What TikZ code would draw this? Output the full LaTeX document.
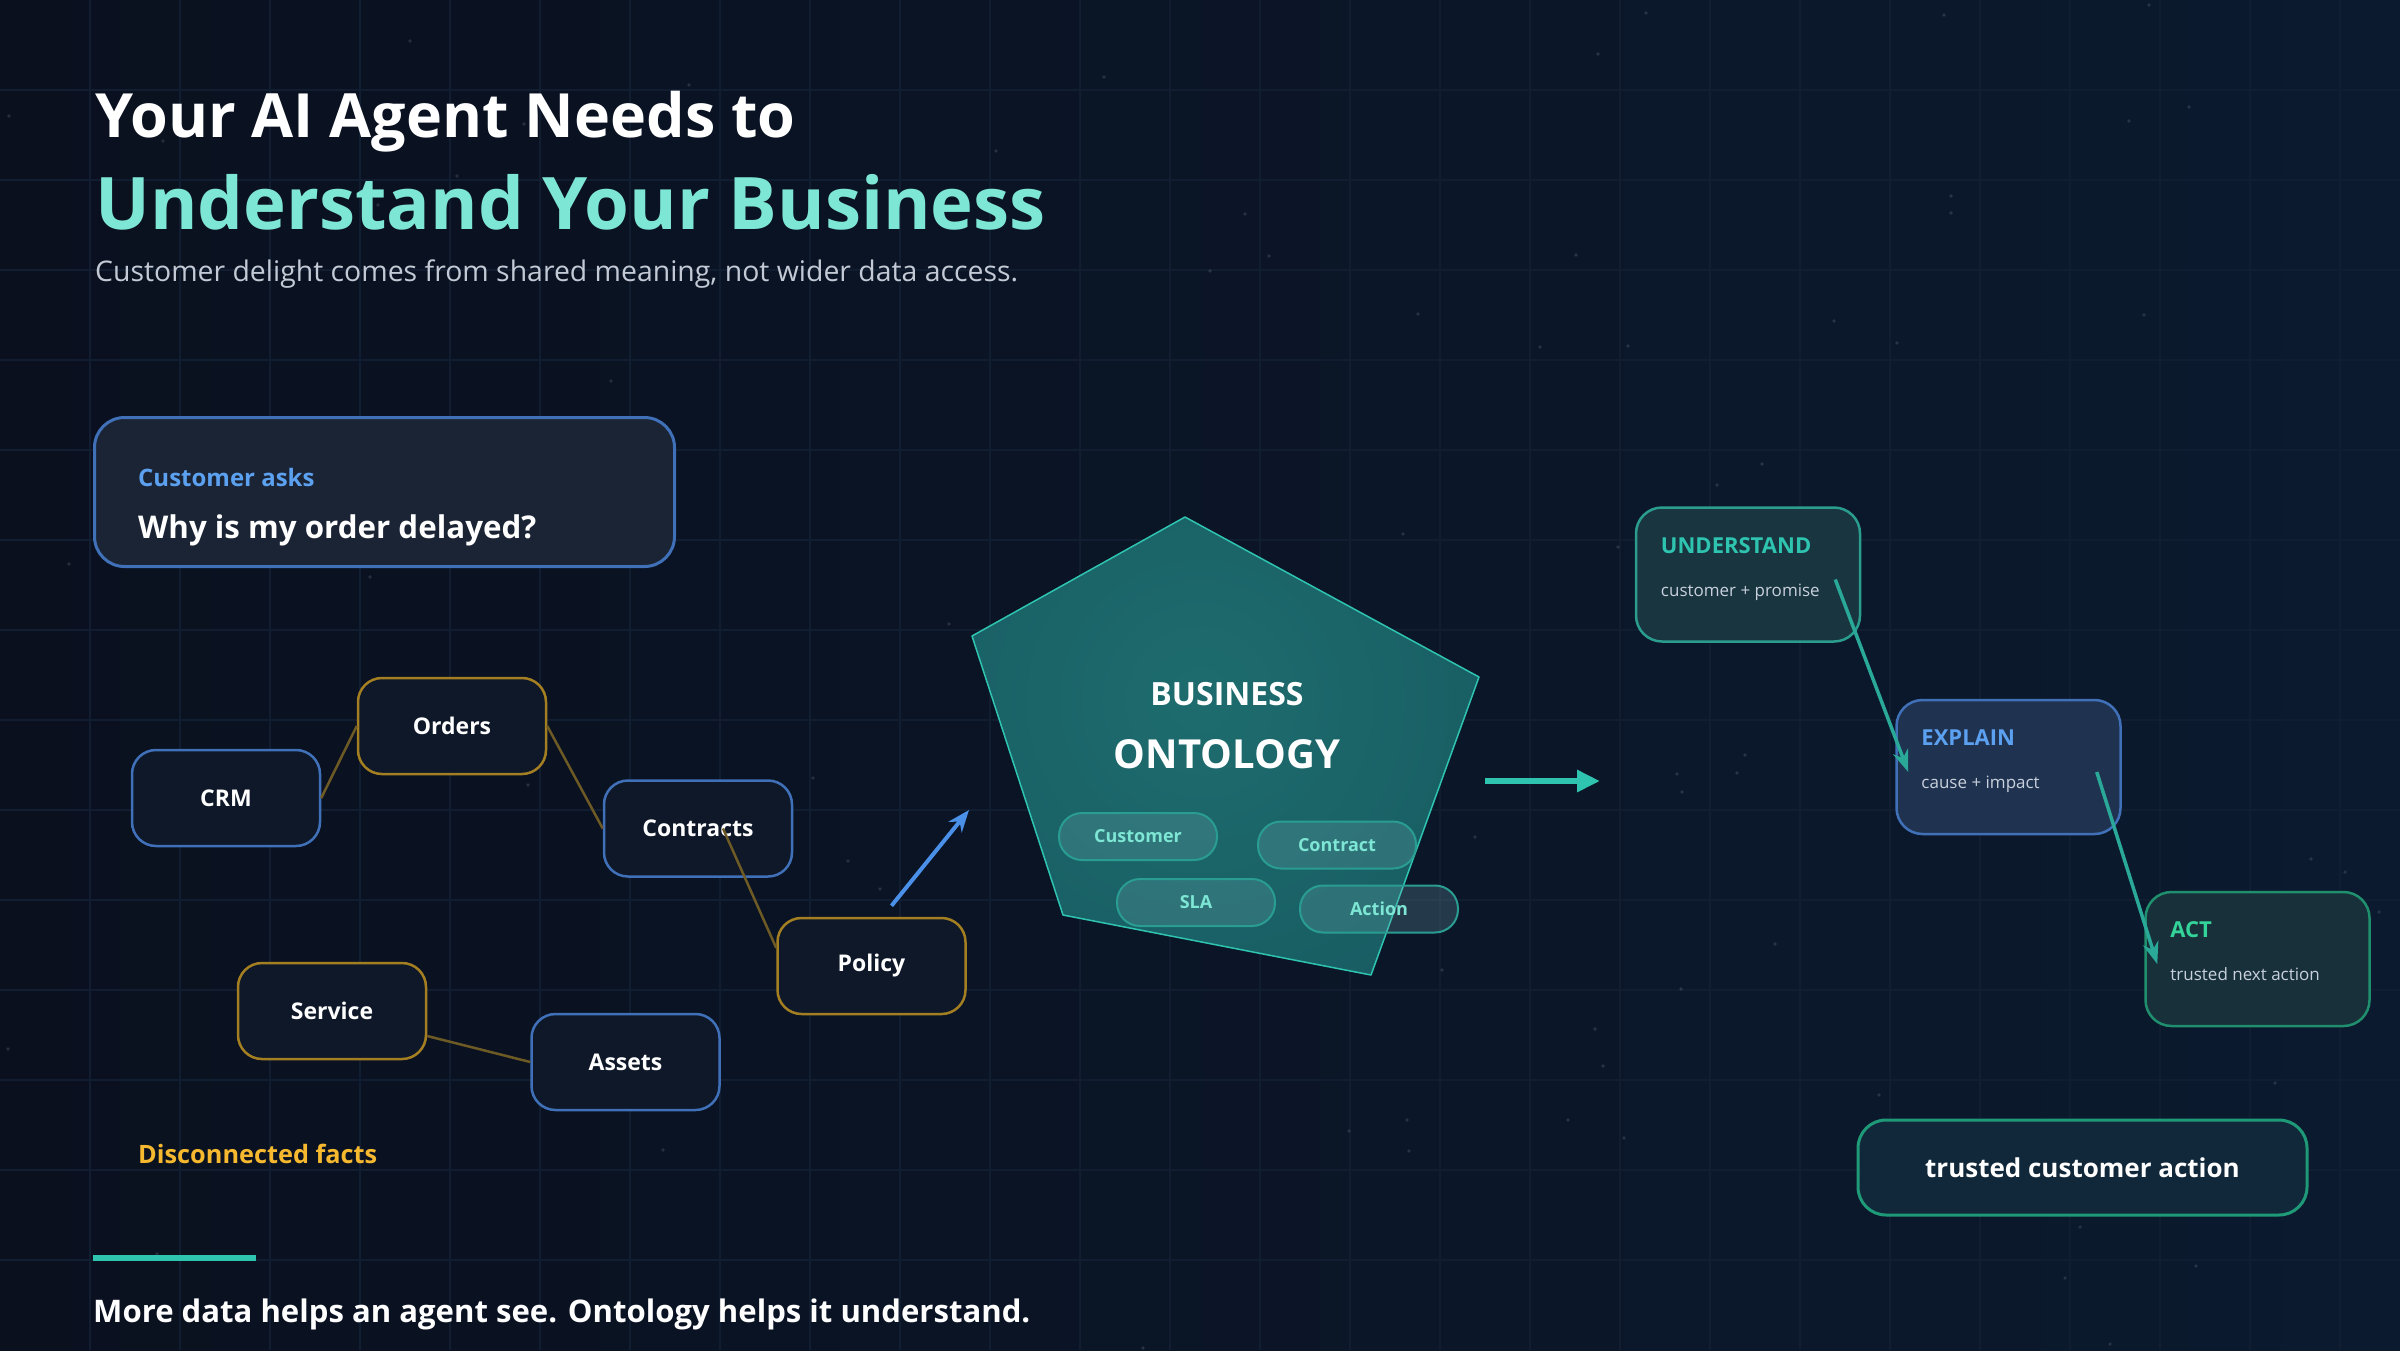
\documentclass[tikz,border=0pt]{standalone}
\usepackage{fontspec}
\setmainfont{Open Sans}
\usepackage{tikz}
\usetikzlibrary{arrows.meta, positioning, calc}
\usepackage{xcolor}
\definecolor{bgleft}{HTML}{0A101E}
\definecolor{bgright}{HTML}{0B1A2F}
\definecolor{gridcol}{HTML}{111D30}
\definecolor{headteal}{HTML}{7EE6D4}
\definecolor{subgrey}{HTML}{C3CAD6}
\definecolor{askblue}{HTML}{5CA0F0}
\definecolor{askfill}{HTML}{1B2435}
\definecolor{lineblue}{HTML}{3F70B8}
\definecolor{linegold}{HTML}{A47F22}
\definecolor{factfill}{HTML}{0E1829}
\definecolor{linkgold}{HTML}{6E5A24}
\definecolor{factgold}{HTML}{F5B82E}
\definecolor{flowteal}{HTML}{2EC4B0}
\definecolor{arrowblue}{HTML}{4A8FE8}
\definecolor{glowcore}{HTML}{1E6C6E}
\definecolor{glowmid}{HTML}{175C62}
\definecolor{glowedge}{HTML}{0E2335}
\definecolor{pillline}{HTML}{2A9D92}
\definecolor{pillfill}{HTML}{6FA8B0}
\definecolor{pilltext}{HTML}{7EE6D4}
\definecolor{undline}{HTML}{2A9D8F}
\definecolor{undfill}{HTML}{183540}
\definecolor{expfill}{HTML}{1F3250}
\definecolor{actline}{HTML}{1F8F6E}
\definecolor{actfill}{HTML}{17303A}
\definecolor{acttext}{HTML}{34D399}
\definecolor{steparrow}{HTML}{2AA898}
\definecolor{trustline}{HTML}{1F9A78}
\definecolor{trustfill}{HTML}{11283A}
\definecolor{stepsub}{HTML}{C8D0DC}

\newcommand{\pxsize}[1]{\fontsize{#1}{#1}\selectfont}
\pgfdeclareradialshading{ontoglow}{\pgfpoint{0bp}{0bp}}%
  {color(0bp)=(glowcore); color(24bp)=(glowmid); color(50bp)=(glowedge)}

\begin{document}
\begin{tikzpicture}[
  x = 1pt, y = -1pt,
  %
  % ── Node styles ─────────────────────────────────────────────────
  plain/.style     = {inner sep=0pt, anchor=base west},
  fact/.style      = {draw, fill=factfill, rounded corners=24pt, line width=2.5pt,
                      minimum width=188pt, minimum height=96pt,
                      text=white, font=\pxsize{23}\bfseries},
  factblue/.style  = {fact, draw=lineblue},
  factgold/.style  = {fact, draw=linegold},
  link/.style      = {draw=linkgold, line width=2.5pt},
  pill/.style      = {draw=pillline, fill=pillfill, fill opacity=0.25, text opacity=1,
                      rounded corners=23pt, line width=2pt,
                      minimum width=158pt, minimum height=47pt,
                      text=pilltext, font=\pxsize{18}\bfseries},
  stepbox/.style   = {draw, rounded corners=26pt, line width=2.5pt,
                      minimum width=224pt, minimum height=134pt},
  steptitle/.style = {plain, font=\pxsize{22}\bfseries},
  stepnote/.style  = {plain, text=stepsub, font=\pxsize{17}},
  flow/.style      = {-{Triangle[length=23pt, width=21pt]}, flowteal, line width=6pt},
  steparr/.style   = {-{Stealth[length=22pt, width=16pt]}, steparrow, line width=3.5pt},
]

\useasboundingbox (0,0) rectangle (2400,1350);

%% ═══════════════════════════════════════════════════════════════════
%% BACKGROUND — gradient, grid, faint dots
%% ═══════════════════════════════════════════════════════════════════

\shade[left color=bgleft, right color=bgright] (0,0) rectangle (2400,1350);
\foreach \gx in {90,180,...,2340}
  \draw[gridcol, line width=1.2pt] (\gx,0) -- (\gx,1350);
\foreach \gy in {90,180,...,1260}
  \draw[gridcol, line width=1.2pt] (0,\gy) -- (2400,\gy);
\pgfmathsetseed{42}
\foreach \i in {1,...,80}{
  \pgfmathsetmacro{\sx}{random(0,2400)}
  \pgfmathsetmacro{\sy}{random(0,1350)}
  \fill[white, opacity=0.12] (\sx,\sy) circle (1.8pt);
}

%% ═══════════════════════════════════════════════════════════════════
%% HEADLINE
%% ═══════════════════════════════════════════════════════════════════

\node[plain, text=white, font=\pxsize{61}\bfseries] (head-top) at (95,137)
  {Your AI Agent Needs to};
\node[plain, text=headteal, font=\pxsize{72.5}\bfseries] (head-main) at (95,229)
  {Understand Your Business};
\node[plain, text=subgrey, font=\pxsize{28.4}] (head-sub) at (95,281)
  {Customer delight comes from shared meaning, not wider data access.};

%% ═══════════════════════════════════════════════════════════════════
%% LEFT — question and disconnected facts
%% ═══════════════════════════════════════════════════════════════════

\node[draw=lineblue, fill=askfill, rounded corners=30pt, line width=3pt,
      minimum width=580pt, minimum height=149pt] (ask-box) at (384.5,492) {};
\node[plain, text=askblue, font=\pxsize{24}\bfseries] (ask-who) at (138,486)
  {Customer asks};
\node[plain, text=white, font=\pxsize{31.3}\bfseries] (ask-what) at (138,538)
  {Why is my order delayed?};

\node[factblue] (crm)       at (226,798)    {CRM};
\node[factgold] (orders)    at (452,726)    {Orders};
\node[factblue] (contracts) at (698,828.5)  {Contracts};
\node[factgold] (policy)    at (871.5,966)  {Policy};
\node[factgold] (service)   at (332,1011)   {Service};
\node[factblue] (assets)    at (625.5,1062) {Assets};

%% ── Loose links ──────────────────────────────────────────────────
\draw[link] (crm.east) -- (orders.west);
\draw[link] (orders.east) -- (contracts.west);
\draw[link] ([xshift=25pt]contracts.center) -- ([yshift=18pt]policy.west);
\draw[link] ([yshift=-25pt]service.east) -- (assets.west);

\node[plain, text=factgold, font=\pxsize{25.3}\bfseries] (facts-note) at (138,1163)
  {Disconnected facts};

%% ═══════════════════════════════════════════════════════════════════
%% CENTRE — business ontology
%% ═══════════════════════════════════════════════════════════════════

\coordinate (pg-top)   at (1185,517);
\coordinate (pg-right) at (1479,677);
\coordinate (pg-br)    at (1371,975);
\coordinate (pg-bl)    at (1063,915);
\coordinate (pg-left)  at (972,636);

\begin{scope}
  \clip (pg-top) -- (pg-right) -- (pg-br) -- (pg-bl) -- (pg-left) -- cycle;
  \shade[shading=ontoglow] (1200,700) circle (360pt);
\end{scope}
\draw[flowteal, line width=1.5pt, line join=round]
  (pg-top) -- (pg-right) -- (pg-br) -- (pg-bl) -- (pg-left) -- cycle;

\node[inner sep=0pt, anchor=base, text=white, font=\pxsize{32}\bfseries]
  (onto-top) at (1227,705) {BUSINESS};
\node[inner sep=0pt, anchor=base, text=white, font=\pxsize{40}\bfseries]
  (onto-main) at (1227,768) {ONTOLOGY};

\node[pill] (p-customer) at (1138,836.5) {Customer};
\node[pill] (p-contract) at (1337,845)   {Contract};
\node[pill] (p-sla)      at (1196,902.5) {SLA};
\node[pill] (p-action)   at (1379,909)   {Action};

%% ── Arrows in and out ────────────────────────────────────────────
\coordinate (onto-in)  at (969,810);
\coordinate (onto-out) at (1485,781);
\coordinate (flow-in)  at (1600,781);

\draw[-{Stealth[length=22pt, width=17pt]}, arrowblue, line width=4pt]
  ([shift={(20,-11)}]policy.north) -- (onto-in);
\draw[flow] (onto-out) -- (flow-in);

%% ═══════════════════════════════════════════════════════════════════
%% RIGHT — understand, explain, act
%% ═══════════════════════════════════════════════════════════════════

\node[stepbox, draw=undline, fill=undfill]  (understand) at (1748,574.5) {};
\node[stepbox, draw=lineblue, fill=expfill] (explain)    at (2008.5,767) {};
\node[stepbox, draw=actline, fill=actfill]  (act)        at (2257.5,959) {};

\node[steptitle, text=flowteal] (und-title) at ($(understand.north west)+(26,47)$) {UNDERSTAND};
\node[stepnote]                 (und-note)  at ($(understand.north west)+(26,90)$) {customer + promise};
\node[steptitle, text=askblue]  (exp-title) at ($(explain.north west)+(26,47)$)    {EXPLAIN};
\node[stepnote]                 (exp-note)  at ($(explain.north west)+(26,90)$)    {cause + impact};
\node[steptitle, text=acttext]  (act-title) at ($(act.north west)+(26,47)$)        {ACT};
\node[stepnote]                 (act-note)  at ($(act.north west)+(26,90)$)        {trusted next action};

\draw[steparr] ([shift={(-26,5)}]understand.east) -- ([shift={(13,5)}]explain.west);
\draw[steparr] ([shift={(-25,5)}]explain.east) -- ([shift={(13,5)}]act.west);

\node[draw=trustline, fill=trustfill, rounded corners=28pt, line width=3pt,
      minimum width=449pt, minimum height=95pt,
      text=white, font=\pxsize{26}\bfseries] (trusted) at (2082.5,1167.5)
  {trusted customer action};

%% ═══════════════════════════════════════════════════════════════════
%% FOOTER
%% ═══════════════════════════════════════════════════════════════════

\fill[flowteal] (93,1255) rectangle (256,1261);
\node[plain, text=white, font=\pxsize{31.1}\bfseries] (footer) at (93,1322)
  {More data helps an agent see. Ontology helps it understand.};

\end{tikzpicture}
\end{document}
